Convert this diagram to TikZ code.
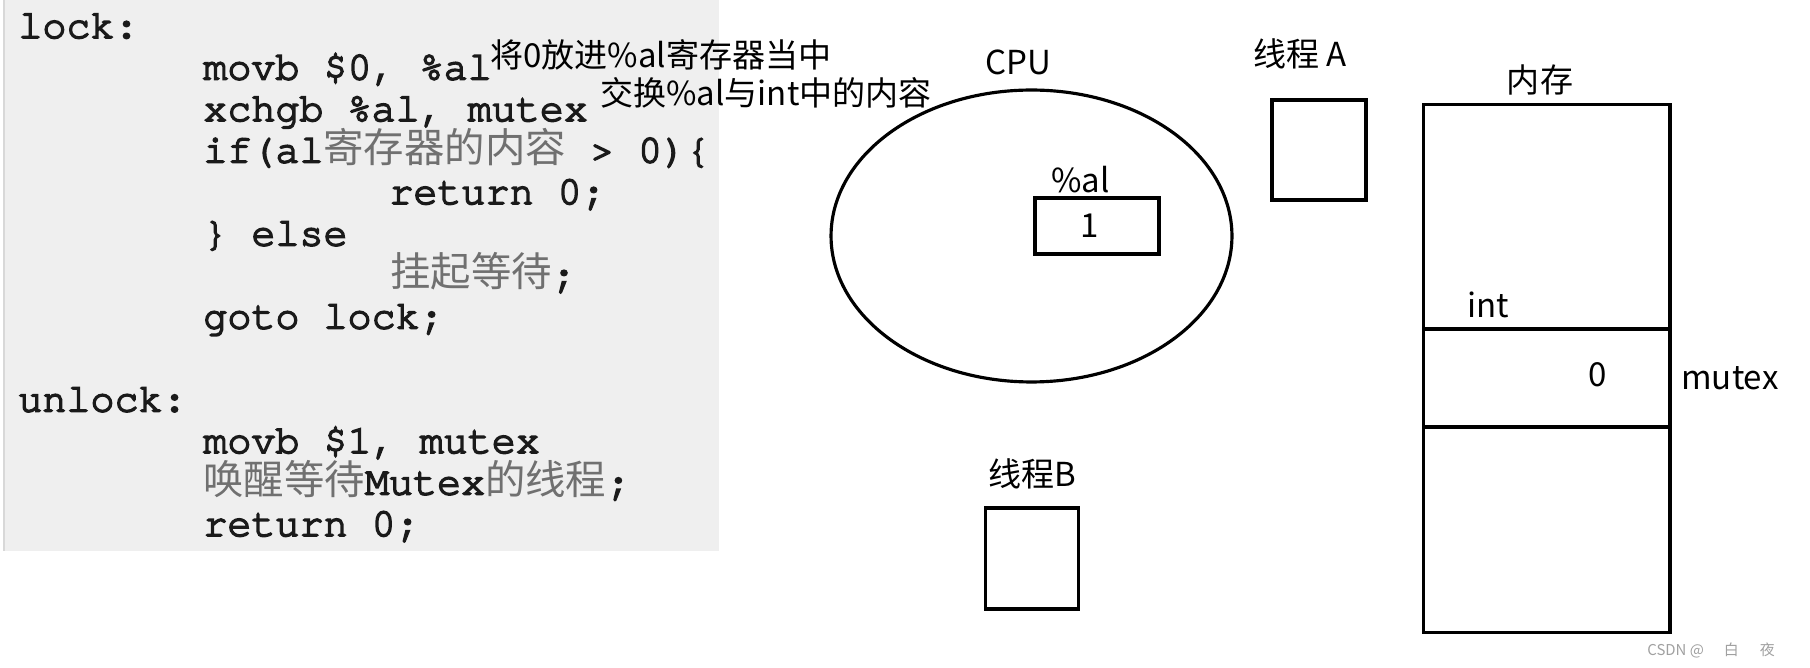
\documentclass[tikz,border=0pt]{standalone}
\usepackage{fontspec}
\usepackage{xcolor}
\usetikzlibrary{shapes.geometric, positioning}
\newfontfamily\zhfont{Noto Sans CJK SC}
\newfontfamily\cursorfont{TeX Gyre Cursor}[FakeBold=4]
\definecolor{code-bg}{HTML}{EFEFEF}
\definecolor{code-edge}{HTML}{D8D8D8}
\definecolor{code-black}{HTML}{1A1A1A}
\definecolor{code-gray}{HTML}{707070}
\definecolor{mark-gray}{HTML}{A0A0A0}
\newcommand\codefont{\cursorfont\fontsize{22.8}{27}\selectfont}
\newcommand\zh[1]{{\color{code-gray}\zhfont\fontsize{23}{27}\selectfont #1}}
\newcommand\labelfont{\zhfont\fontsize{18.8}{22}\selectfont}

\begin{document}
\begin{tikzpicture}[x=0.02cm, y=-0.02cm,
		code/.style={anchor=base west, inner sep=0pt, font=\codefont, text=code-black},
		lbl/.style={inner sep=0pt, font=\labelfont},
		box/.style={draw, line width=2pt, inner sep=0pt}]
	\useasboundingbox (0,0) rectangle (1810,668);
	\fill[code-bg] (4,0) rectangle (719,551);
	\draw[code-edge, line width=0.6pt] (4,0) -- (4,551);
	
	\node[code] at (18,38) (lockLbl) {lock:};
	\node[code] at (203,79.5) (movbA) {movb \$0, \%al};
	\node[code] at (203,121) (xchg) {xchgb \%al, mutex};
	\node[code] at (203,162.5) (test) {if(al\zh{寄存器的内容} > 0)\{};
	\node[code] at (389,204) (retA) {return 0;};
	\node[code] at (203,245.5) (other) {\} else};
	\node[code] at (390,287) (wait) {\zh{挂起等待};};
	\node[code] at (203,328.5) (jump) {goto lock;};
	\node[code] at (18,411.5) (unlockLbl) {unlock:};
	\node[code] at (203,453) (movbB) {movb \$1, mutex};
	\node[code] at (203,494.5) (wake) {\zh{唤醒等待}Mutex\zh{的线程};};
	\node[code] at (203,536) (retB) {return 0;};
	
	\node[lbl, anchor=base west] at (490,68) (noteA) {将0放进\%al寄存器当中};
	\node[lbl, anchor=base west] at (600,106) (noteB) {交换\%al与int中的内容};
	
	\node[draw, ellipse, line width=1.8pt, inner sep=0pt, minimum width=8.02cm, minimum height=5.84cm] at (1031.5,236) (cpu) {};
	\node[lbl, anchor=base] at (1018,75) (cpuLbl) {CPU};
	\node[box, minimum width=2.48cm, minimum height=1.12cm] at (1097,226) (al) {};
	\node[lbl, anchor=base west] at (1051,193) (alLbl) {\%al};
	\node[lbl, anchor=base] at (1090,238) (alVal) {1};
	
	\node[box, minimum width=1.88cm, minimum height=2cm] at (1319,150) (thA) {};
	\node[lbl, anchor=base west] at (1253,66.5) (thALbl) {线程 A};
	\node[box, minimum width=1.86cm, minimum height=2.02cm] at (1032,558.5) (thB) {};
	\node[lbl, anchor=base] at (1032,487) (thBLbl) {线程B};
	
	\node[box, minimum width=4.93cm, minimum height=10.56cm] at (1546.7,368.5) (mem) {};
	\node[lbl, anchor=base] at (1540,93) (memLbl) {内存};
	\node[box, minimum width=4.93cm, minimum height=1.96cm] at (1546.7,378) (mutex) {};
	\node[lbl, anchor=base west] at (1467,318) (intLbl) {int};
	\node[lbl, anchor=base] at (1597.5,387) (mutexVal) {0};
	\node[lbl, anchor=base west] at (1681,390) (mutexLbl) {mutex};
	
	\node[anchor=base west, inner sep=0pt, font=\zhfont\fontsize{8.5}{9}\selectfont, text=mark-gray] at (1647,656) (mark) {CSDN @\hspace{0.4cm}白\hspace{0.42cm}夜\hspace{0.4cm}};
\end{tikzpicture}
\end{document}
